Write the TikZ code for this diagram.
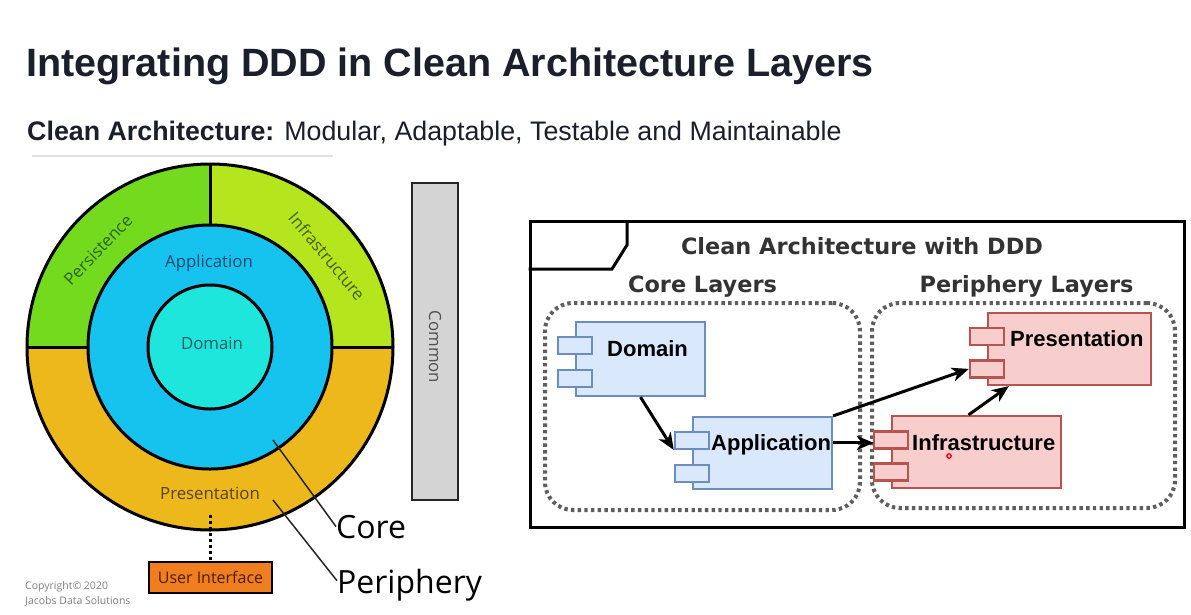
\documentclass[tikz,border=0pt]{standalone}
\usepackage{fontspec}
\setmainfont{Liberation Sans}
\newfontfamily\uifont{Open Sans}
\newfontfamily\dvfont{DejaVu Sans}
\usetikzlibrary{arrows.meta,calc}
\newcommand\setfs[1]{\fontsize{#1}{#1}\selectfont}

% onion diagram colours
\definecolor{persgreen}{HTML}{74DA1E}
\definecolor{infralime}{HTML}{B5E51C}
\definecolor{presorange}{HTML}{ECB81B}
\definecolor{appblue}{HTML}{15C3EE}
\definecolor{domcyan}{HTML}{1FE6DC}
\definecolor{commongray}{HTML}{D4D4D4}
\definecolor{uiorange}{HTML}{F07E1F}
\definecolor{perstext}{HTML}{2A6412}
\definecolor{infratext}{HTML}{45600E}
\definecolor{apptext}{HTML}{184872}
\definecolor{domtext}{HTML}{175F60}
\definecolor{prestext}{HTML}{554215}
\definecolor{uitext}{HTML}{4A1D05}
\definecolor{commontext}{HTML}{505050}
\definecolor{copytext}{HTML}{808080}
% slide text
\definecolor{titlecol}{HTML}{1B1F2B}
% component diagram colours
\definecolor{cbfill}{HTML}{DAE8FC}
\definecolor{cbdraw}{HTML}{6C8EBF}
\definecolor{crfill}{HTML}{F8CECC}
\definecolor{crdraw}{HTML}{B85450}
\definecolor{cgroup}{HTML}{5E5E5E}
\definecolor{cdark}{HTML}{333333}

\begin{document}
\begin{tikzpicture}[x=1pt,y=-1pt,
  ring/.style={draw=black, line width=3pt},
  ringlabel/.style={font=\uifont\setfs{16.8}, inner sep=0},
  compblue/.style={draw=cbdraw, fill=cbfill, line width=2.2pt, inner sep=0, rectangle},
  compred/.style={draw=crdraw, fill=crfill, line width=2.2pt, inner sep=0, rectangle},
  port/.style={minimum width=34pt, minimum height=17pt},
  complabel/.style={font=\bfseries\setfs{22}, inner sep=0, anchor=base west},
  grouplabel/.style={font=\dvfont\bfseries\setfs{22.4}, text=cdark, inner sep=0, anchor=base},
  groupbox/.style={draw=cgroup, line width=4pt, dash pattern=on 3.4pt off 3.3pt, rounded corners=28pt, inner sep=0},
  flow/.style={line width=3pt, -{Stealth[length=17pt,width=14pt,inset=5pt]}},
]
\useasboundingbox (0,0) rectangle (1191,614);
\fill[white] (0,0) rectangle (1191,614);

% ---------- heading ----------
\node[anchor=base west, inner sep=0, font=\bfseries\setfs{39.5}, text=titlecol] (title)
  at (26,76) {Integrating DDD in Clean Architecture Layers};
\node[anchor=base west, inner sep=0, font=\setfs{26.8}, text=titlecol] (subtitle)
  at (27,140) {\textbf{Clean Architecture:} Modular, Adaptable, Testable and Maintainable};
\draw[line width=1.5pt, black!12] (32,156) -- (333,156);

% ---------- onion diagram ----------
\coordinate (c) at (210,347);
\fill[presorange] (c) circle[radius=183];
\fill[persgreen] (c) -- (27,347) arc[start angle=180,end angle=270,radius=183] -- cycle;
\fill[infralime] (c) -- (210,164) arc[start angle=270,end angle=360,radius=183] -- cycle;
\draw[ring] (c) circle[radius=183];
\draw[ring] (210,164) -- (210,225);
\draw[ring] (27,347) -- (88,347);
\draw[ring] (332,347) -- (393,347);
\filldraw[ring, fill=appblue] (c) circle[radius=122];
\filldraw[ring, fill=domcyan] (c) circle[radius=62];

\node[ringlabel, text=apptext] (l-app) at (209,263) {Application};
\node[ringlabel, text=domtext] (l-dom) at (212,343) {Domain};
\node[ringlabel, text=prestext] (l-pres) at (210,493) {Presentation};
\node[ringlabel, text=perstext, rotate=46] (l-pers) at (98,250) {Persistence};
\node[ringlabel, text=infratext, rotate=-50] (l-infra) at (327,256) {Infrastructure};

% shared bar
\node[draw=black!85, line width=2.5pt, fill=commongray, minimum width=46pt,
  minimum height=317pt, inner sep=0] (common) at (435,341.5) {};
\node[ringlabel, text=commontext, rotate=-90] (common-t) at (435,347) {Common};

% user interface box hanging below
\node[draw=black, line width=2.5pt, fill=uiorange, minimum width=123pt, minimum height=31pt,
  inner sep=0, font=\uifont\setfs{16}, text=uitext] (ui) at (210.5,577.5) {User Interface};
\coordinate (pres-dot) at (210.5,515);
\draw[line width=3pt, dash pattern=on 3pt off 3pt] (pres-dot) -- (ui.north);

% callouts
\coordinate (core-from) at (273,440);
\coordinate (peri-from) at (273,500);
\node[anchor=base west, inner sep=0, font=\uifont\setfs{32}] (core) at (336,538) {Core};
\node[anchor=base west, inner sep=0, font=\uifont\setfs{32}] (peri) at (337,593) {Periphery};
\draw[line width=1.5pt, black!85] (core-from) -- (core.west);
\draw[line width=1.5pt, black!85] (peri-from) -- ($(peri.west)+(0,-4)$);

% copyright
\node[anchor=base west, inner sep=0, font=\uifont\setfs{10.5}, text=copytext] (copy1) at (25,589) {Copyright© 2020};
\node[anchor=base west, inner sep=0, font=\uifont\setfs{10.5}, text=copytext] (copy2) at (25,604) {Jacobs Data Solutions};

% ---------- component diagram ----------
\node[draw=black, line width=3pt, minimum width=654pt, minimum height=306pt, inner sep=0] (frame) at (857,374) {};
\draw[line width=3pt] (frame.west |- 0,269) -- (612,269) -- (627,245) -- (627,221);
\node[grouplabel] (frame-t) at (862,254) {Clean Architecture with DDD};

\node[grouplabel] (core-t) at (702.5,292) {Core Layers};
\node[grouplabel] (peri-t) at (1026.5,292) {Periphery Layers};
\node[groupbox, minimum width=315pt, minimum height=207pt] (coregrp) at (702.5,406.5) {};
\node[groupbox, minimum width=303pt, minimum height=205pt] (perigrp) at (1023.5,405.5) {};

% Domain
\node[compblue, minimum width=129pt, minimum height=74pt] (dom) at (640.5,359) {};
\node[compblue, port] (dom-p1) at ($(dom.north west)+(0,24.5)$) {};
\node[compblue, port] (dom-p2) at ($(dom.north west)+(0,57.5)$) {};
\node[complabel] (dom-t) at (607,356) {Domain};
% Application
\node[compblue, minimum width=139pt, minimum height=72pt] (app) at (762.5,453) {};
\node[compblue, port] (app-p1) at ($(app.north west)+(0,24.5)$) {};
\node[compblue, port] (app-p2) at ($(app.north west)+(0,57.5)$) {};
\node[complabel] (app-t) at (711,450) {Application};
% Presentation
\node[compred, minimum width=163pt, minimum height=72pt] (pres) at (1069.5,349) {};
\node[compred, port] (pres-p1) at ($(pres.north west)+(0,24.5)$) {};
\node[compred, port] (pres-p2) at ($(pres.north west)+(0,57)$) {};
\node[complabel] (pres-t) at (1010,346) {Presentation};
% Infrastructure
\node[compred, minimum width=169pt, minimum height=72pt] (infra) at (976.5,452) {};
\node[compred, port] (infra-p1) at ($(infra.north west)+(0,25)$) {};
\node[compred, port] (infra-p2) at ($(infra.north west)+(0,57)$) {};
\node[complabel] (infra-t) at (912,450) {Infrastructure};

% dependencies
\coordinate (infra-in) at ($(infra-p1.west)+(1,3)$);
\draw[flow] (dom.south) -- (app-p1.south west);
\draw[flow] (app.north east) -- (pres-p2.west);
\draw[flow] (app.east |- infra-in) -- (infra-in);
\draw[flow] ($(infra.north)+(-8,0)$) -- ($(pres.south west)+(22,0)$);

% pointer mark
\coordinate (pointer) at (949,456);
\fill[red!25, opacity=0.6] (pointer) circle[radius=5];
\draw[red!85!black, line width=1.2pt] (pointer) circle[radius=2.2];
\end{tikzpicture}
\end{document}
